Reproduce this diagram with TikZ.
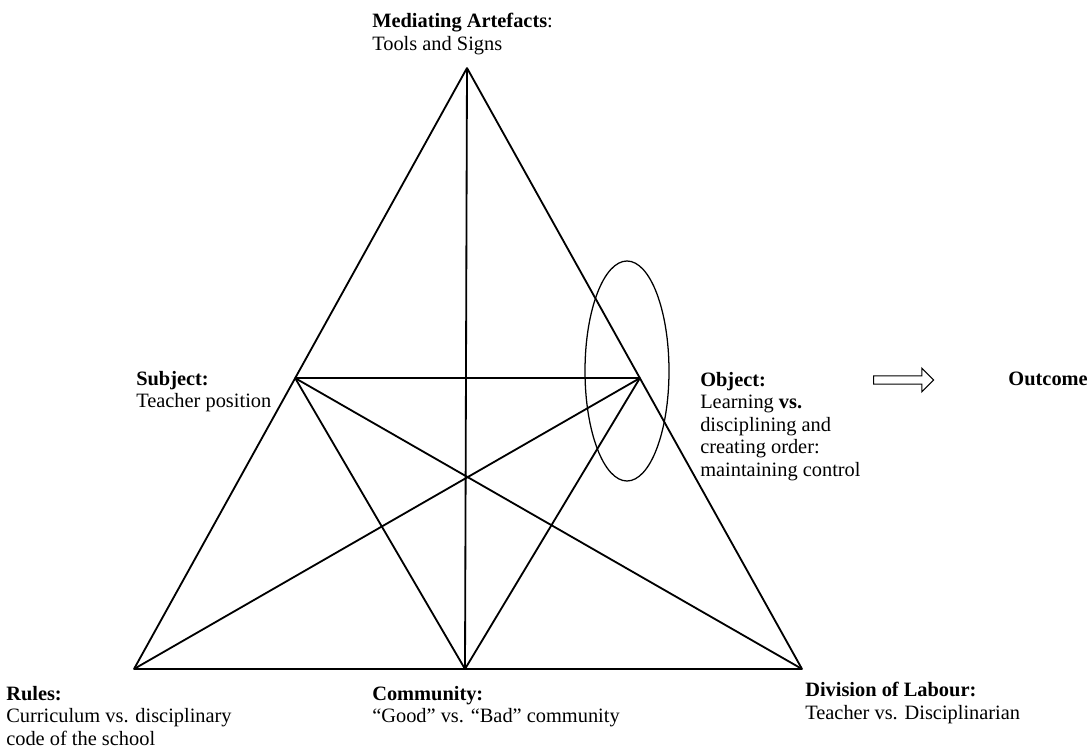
\documentclass[tikz,border=0pt]{standalone}
\usepackage{fontspec}
\setmainfont{Liberation Serif}
\usetikzlibrary{positioning,calc,shapes.arrows}

\begin{document}
\begin{tikzpicture}[x=0.025cm, y=-0.025cm, every node/.style={font=\fontsize{14.5}{16}\selectfont} ]

    \useasboundingbox (0,0) rectangle (1092,753);

    \tikzset{pt/.style={inner sep=0pt, minimum size=0pt},
             lab/.style={anchor=north west, align=left, inner sep=0pt},
             edge/.style={line width=1.3pt, line join=round, line cap=round}}

    % corners of the triangle
    \node[pt] (tools) at (467,68) {};
    \node[pt] (rules) at (134,669) {};
    \node[pt] (community) at (465,669) {};
    \node[pt] (division) at (802,669) {};
    \node[pt] (subject) at ($(tools)!0.516!(rules)$) {};
    \node[pt] (object) at ($(tools)!0.516!(division)$) {};

    \draw[edge] (tools) -- (rules);
    \draw[edge] (tools) -- (division);
    \draw[edge] (rules) -- (division);
    \draw[edge] (tools) -- (community);
    \draw[edge] (subject) -- (object);
    \draw[edge] (subject) -- (community);
    \draw[edge] (subject) -- (division);
    \draw[edge] (object) -- (community);
    \draw[edge] (object) -- (rules);

    \draw[line width=0.9pt] (627,371) ellipse [x radius=42, y radius=110];

    % labels
    \node[lab] (toolslab) at (372,13) {\textbf{Mediating Artefacts}:\\Tools and Signs};
    \node[lab] (subjectlab) at (136,371) {\textbf{Subject:}\\Teacher position};
    \node[lab] (objectlab) at (700,372) {\textbf{Object:}\\Learning \textbf{vs.}\\disciplining and\\creating order:\\maintaining control};
    \node[lab, anchor=north east] (outcomelab) at (1088,372) {\textbf{Outcome}};
    \node[lab] (ruleslab) at (6,686) {\textbf{Rules:}\\Curriculum vs. disciplinary\\code of the school};
    \node[lab] (communitylab) at (372,686) {\textbf{Community:}\\``Good'' vs. ``Bad'' community};
    \node[lab] (divisionlab) at (805,682) {\textbf{Division of Labour:}\\Teacher vs. Disciplinarian};

    \node[single arrow, draw, line width=0.8pt, minimum height=1.5cm, inner sep=2.5pt,
          single arrow head extend=0.19cm, anchor=west] (toout) at (873,380) {};

\end{tikzpicture}
\end{document}
